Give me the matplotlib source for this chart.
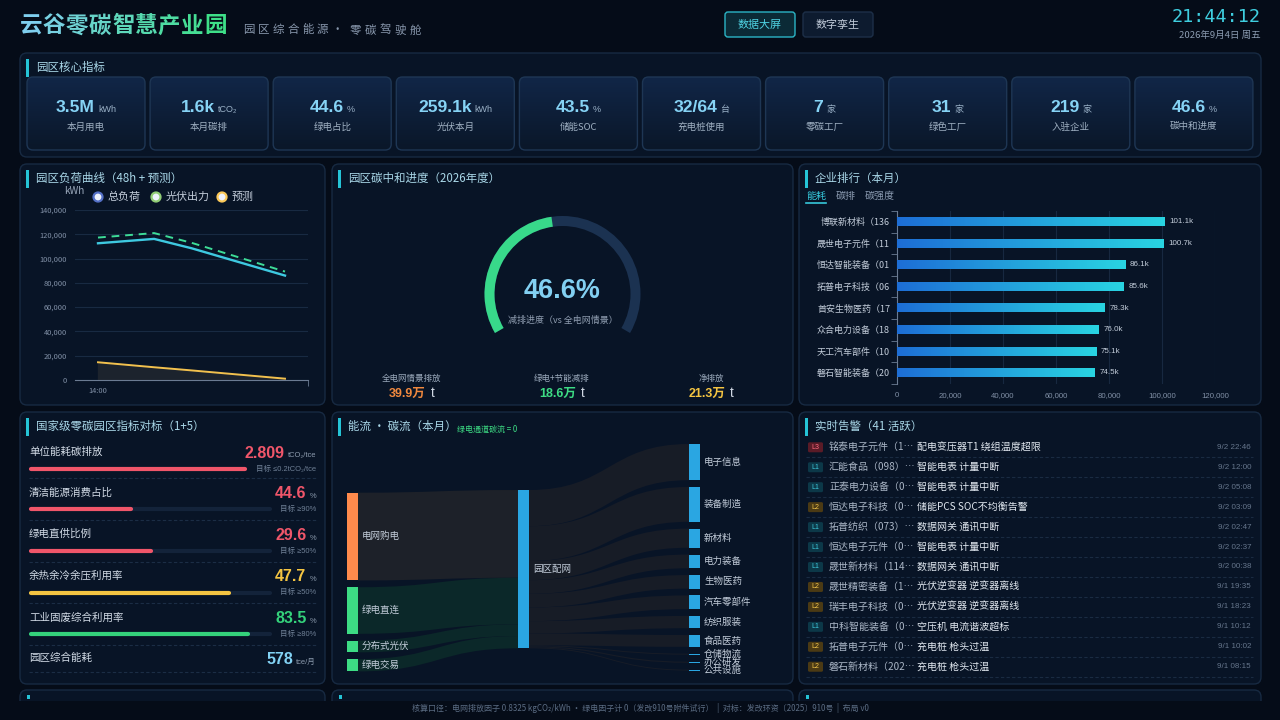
import matplotlib
matplotlib.use('Agg')
import matplotlib.pyplot as plt
import numpy as np
from matplotlib.patches import FancyBboxPatch, Rectangle, Wedge, PathPatch, Circle
from matplotlib.path import Path
from matplotlib.colors import LinearSegmentedColormap
from matplotlib.ticker import FuncFormatter, FixedLocator

plt.rcParams['font.family'] = ['Noto Sans CJK SC', 'DejaVu Sans']
FONT_CJK = ['Noto Sans CJK SC', 'DejaVu Sans']
FONT_NUM = ['Liberation Sans', 'Noto Sans CJK SC', 'DejaVu Sans']

# ---------------- data ----------------
title_text = '云谷零碳智慧产业园'
subtitle_parts = ['园区综合能源', '零碳驾驶舱']
clock_text = '21:44:12'
date_text = '2026年9月4日 周五'
buttons = ['数据大屏', '数字孪生']

kpi_values = ['3.5M', '1.6k', '44.6', '259.1k', '43.5', '32/64', '7', '31', '219', '46.6']
kpi_units = ['kWh', 'tCO₂', '%', 'kWh', '%', '台', '家', '家', '家', '%']
kpi_labels = ['本月用电', '本月碳排', '绿电占比', '光伏本月', '储能SOC', '充电桩使用',
              '零碳工厂', '绿色工厂', '入驻企业', '碳中和进度']

load_hours = [14, 17, 19, 24]
load_tick_labels = ['14:00']
load_total = [112600, 116200, 108500, 86000]
load_forecast = [117300, 121000, 113000, 89300]
pv_output = [14600, 10500, 7900, 1100]
legend_names = ['总负荷', '光伏出力', '预测']

gauge_value = 46.6
gauge_stats_labels = ['全电网情景排放', '绿电+节能减排', '净排放']
gauge_stats_values = ['39.9万', '18.6万', '21.3万']

rank_tabs = ['能耗', '碳排', '碳强度']
rank_names = ['博联新材料（136', '晟世电子元件（11', '恒达智能装备（01', '拓普电子科技（06',
              '首安生物医药（17', '众合电力设备（18', '天工汽车部件（10', '磐石智能装备（20']
rank_values = [101100, 100700, 86100, 85600, 78300, 76000, 75100, 74500]

ind_names = ['单位能耗碳排放', '清洁能源消费占比', '绿电直供比例', '余热余冷余压利用率',
             '工业固废综合利用率', '园区综合能耗']
ind_values = ['2.809', '44.6', '29.6', '47.7', '83.5', '578']
ind_units = ['tCO₂/tce', '%', '%', '%', '%', 'tce/月']
ind_targets = ['目标 ≤0.2tCO₂/tce', '目标 ≥90%', '目标 ≥50%', '目标 ≥50%', '目标 ≥80%', None]
ind_fill = [1.0, 0.43, 0.51, 0.83, 0.91, None]
ind_status = ['bad', 'bad', 'bad', 'warn', 'ok', 'info']

sk_sources = ['电网购电', '绿电直连', '分布式光伏', '绿电交易']
sk_source_vals = [1940, 1030, 259, 271]
sk_hub = '园区配网'
sk_targets = ['电子信息', '装备制造', '新材料', '电力装备', '生物医药', '汽车零部件',
              '纺织服装', '食品医药', '仓储物流', '办公研发', '公共设施']
sk_target_vals = [800, 770, 423, 303, 300, 303, 272, 262, 22, 25, 20]

alarm_levels = ['L3', 'L1', 'L1', 'L2', 'L1', 'L1', 'L1', 'L2', 'L2', 'L1', 'L2', 'L2']
alarm_companies = ['铭泰电子元件（1…', '汇能食品（098）…', '正泰电力设备（0…', '恒达电子科技（0…',
                   '拓普纺织（073）…', '恒达电子元件（0…', '晟世新材料（114…', '晟世精密装备（1…',
                   '瑞丰电子科技（0…', '中科智能装备（0…', '拓普电子元件（0…', '磐石新材料（202…']
alarm_messages = ['配电变压器T1 绕组温度超限', '智能电表 计量中断', '智能电表 计量中断',
                  '储能PCS SOC不均衡告警', '数据网关 通讯中断', '智能电表 计量中断',
                  '数据网关 通讯中断', '光伏逆变器 逆变器离线', '光伏逆变器 逆变器离线',
                  '空压机 电流谐波超标', '充电桩 枪头过温', '充电桩 枪头过温']
alarm_times = ['9/2 22:46', '9/2 12:00', '9/2 05:08', '9/2 03:09', '9/2 02:47', '9/2 02:37',
               '9/2 00:38', '9/1 19:35', '9/1 18:23', '9/1 10:12', '9/1 10:02', '9/1 08:15']

footer_text = ('核算口径：电网排放因子 0.8325 kgCO₂/kWh · 绿电因子计 0（发改910号附件试行）  |  '
               '对标：发改环资〔2025〕910号  |  布局 v0')

# ---------------- style ----------------
BG = '#050c18'
PANEL = '#081426'
BORDER = '#172a42'
CYAN = '#25c4d6'
TITLE_C = '#a9d7e8'
TXT = '#c3cdda'
GREY = '#8190a6'
STATUS_C = {'bad': '#f0566a', 'warn': '#f5c542', 'ok': '#34d27b', 'info': '#82d2f4'}

W, H = 1280, 720
fig = plt.figure(figsize=(12.8, 7.2), dpi=100)
fig.patch.set_facecolor(BG)
ax = fig.add_axes([0, 0, 1, 1])
ax.set_xlim(0, W)
ax.set_ylim(H, 0)
ax.axis('off')
renderer = fig.canvas.get_renderer()


def T(x, y, s, size, color, ha='left', va='center', weight='normal', family=None, **kw):
    return ax.text(x, y, s, fontsize=size * 0.72, color=color, ha=ha, va=va,
                   fontweight=weight, family=family or FONT_CJK, **kw)


def rich(x, y, parts, ha='center'):
    objs, widths = [], []
    for s, size, color, weight, fam, gap in parts:
        t = ax.text(0, y, s, fontsize=size * 0.72, color=color, fontweight=weight,
                    family=fam, ha='left', va='baseline')
        objs.append(t)
        widths.append(t.get_window_extent(renderer=renderer).width + gap)
    total = sum(widths)
    start = x - total / 2 if ha == 'center' else (x - total if ha == 'right' else x)
    cx = start
    for t, w, p in zip(objs, widths, parts):
        cx += p[5]
        t.set_x(cx)
        cx += w - p[5]


def rbox(x0, y0, x1, y1, fc, ec, r=6, lw=1.0, z=1):
    p = FancyBboxPatch((x0, y0), x1 - x0, y1 - y0, boxstyle=f'round,pad=0,rounding_size={r}',
                       fc=fc, ec=ec, lw=lw, zorder=z)
    ax.add_patch(p)
    return p


def panel(x0, y0, x1, y1, title=None):
    rbox(x0, y0, x1, y1, PANEL, BORDER, r=7)
    ax.add_patch(Rectangle((x0 + 6, y0 + 6), 3, 18, fc=CYAN, ec='none', zorder=2))
    if title:
        T(x0 + 16, y0 + 14.5, title, 11.5, TITLE_C, zorder=3)


# ---------------- header ----------------
c0 = np.array([0x7f, 0xcf, 0xee]) / 255
c1 = np.array([0x3e, 0xe0, 0x88]) / 255
for i, ch in enumerate(title_text):
    f = i / (len(title_text) - 1)
    col = c0 * (1 - f) + c1 * f
    T(20 + i * 23.0, 26, ch, 22.5, col, weight='bold')
for start, part in zip([243, 350], subtitle_parts):
    for j, ch in enumerate(part):
        T(start + j * 14.8, 30, ch, 11.5, '#8796ab')
T(337, 30, '·', 11.5, '#8796ab', ha='center')

for (bx0, bx1), lab, active in zip([(725, 795), (803, 873)], buttons, [True, False]):
    rbox(bx0, 12, bx1, 37, '#0b2a36' if active else '#0d1b2f',
         '#2bb5c6' if active else '#1d2f48', r=3, lw=1.0)
    T((bx0 + bx1) / 2, 24.5, lab, 11, '#4fd3e4' if active else '#c0cad8', ha='center')

T(1261, 17, clock_text, 18.5, '#3fcfe0', ha='right', family=['DejaVu Sans Mono'])
T(1261, 35, date_text, 9.5, '#8b9bb0', ha='right')

# ---------------- KPI panel ----------------
panel(20, 53, 1261, 157, '园区核心指标')
card_cmap = LinearSegmentedColormap.from_list('card', ['#112647', '#0a1729'])
for i in range(len(kpi_values)):
    x0 = 27 + i * 123.1
    x1 = x0 + 118
    p = rbox(x0, 77, x1, 150, 'none', '#1e3654', r=6, lw=1.0, z=3)
    im = ax.imshow(np.linspace(0, 1, 64).reshape(-1, 1), extent=[x0, x1, 150, 77],
                   cmap=card_cmap, aspect='auto', origin='upper', zorder=2)
    im.set_clip_path(p)
    cx = (x0 + x1) / 2
    rich(cx, 112, [(kpi_values[i], 17.5, '#86d3f5', 'bold', FONT_NUM, 0),
                   (kpi_units[i], 9, '#9bb2c8', 'normal', FONT_NUM, 3)], ha='center')
    T(cx, 127, kpi_labels[i], 9.5, '#9fb0c2', ha='center', zorder=4)

# ---------------- load curve panel ----------------
panel(20, 164, 325, 405, '园区负荷曲线（48h + 预测）')
T(74, 191, 'kWh', 10, '#9aa8bb', ha='center')
leg_edges = ['#5470c6', '#91cc75', '#fac858']
leg_x = [98, 156, 222]
for lx, name, ec in zip(leg_x, legend_names, leg_edges):
    ax.add_patch(Circle((lx, 197), 4.5, fc='#eef2fb', ec=ec, lw=1.6, zorder=4))
    T(lx + 10, 197, name, 11, TXT)

x_lo, x_hi = 12.77, 25.23
lax = fig.add_axes([75 / W, 1 - 380 / H, (308 - 75) / W, (380 - 210) / H])
lax.set_facecolor('none')
lax.set_xlim(x_lo, x_hi)
lax.set_ylim(0, 140000)
lax.set_yticks(np.arange(0, 140001, 20000))
lax.yaxis.set_major_formatter(FuncFormatter(lambda v, p: f'{int(v):,}'))
lax.grid(axis='y', color='#182a42', lw=0.8)
lax.set_axisbelow(True)
for s in ['left', 'right', 'top']:
    lax.spines[s].set_visible(False)
lax.spines['bottom'].set_color('#6b7b92')
lax.tick_params(axis='y', length=0, labelsize=7.5 * 0.72, labelcolor=GREY, pad=6)
lax.xaxis.set_major_locator(FixedLocator([load_hours[0]]))
lax.set_xticklabels(load_tick_labels)
lax.tick_params(axis='x', length=0, labelsize=7.5 * 0.72, labelcolor=GREY, pad=5)
lax.xaxis.set_minor_locator(FixedLocator([x_hi - 0.01]))
lax.tick_params(axis='x', which='minor', length=4, color='#6b7b92')
lax.fill_between(load_hours, pv_output, 0, color='#1c232d', zorder=2)
lax.plot(load_hours, pv_output, color='#f2c14e', lw=1.4, zorder=3)
lax.plot(load_hours, load_forecast, color='#3ddc97', lw=1.4, ls=(0, (4, 3)), zorder=3)
lax.plot(load_hours, load_total, color='#3ec9e0', lw=1.7, zorder=4)

# ---------------- gauge panel ----------------
panel(332, 164, 793, 405, '园区碳中和进度（2026年度）')
gcx, gcy, gr, gw = 562.5, 294, 78, 10
start_a, end_a = 210, -30
ax.add_patch(Wedge((gcx, gcy), gr, -start_a, -end_a, width=gw, fc='#1b3251', ec='none', zorder=3))
va = start_a - (start_a - end_a) * gauge_value / 100
ax.add_patch(Wedge((gcx, gcy), gr, -start_a, -va, width=gw, fc='#38d98a', ec='none', zorder=4))
T(gcx, 291, f'{gauge_value:.1f}%', 27, '#82d0f2', ha='center', weight='bold', family=FONT_NUM)
T(gcx, 320, '减排进度（vs 全电网情景）', 9, '#8f9db0', ha='center')
stat_x = [412, 562, 711]
stat_c = ['#f0883e', '#3ddc84', '#f5c542']
for sxp, lab, val, col in zip(stat_x, gauge_stats_labels, gauge_stats_values, stat_c):
    T(sxp, 378, lab, 8.5, '#9aa9bb', ha='center')
    rich(sxp, 397, [(val, 12.5, col, 'bold', FONT_NUM, 0),
                    ('t', 13.5, '#d0d8e4', 'normal', FONT_NUM, 5)], ha='center')

# ---------------- ranking panel ----------------
panel(799, 164, 1261, 405, '企业排行（本月）')
tx = [806, 836, 865]
for i, (x, lab) in enumerate(zip(tx, rank_tabs)):
    T(x, 196, lab, 10, '#36c7da' if i == 0 else '#8a9ab0')
ax.plot([806, 826], [202.5, 202.5], color='#36c7da', lw=1.2)

bax = fig.add_axes([897 / W, 1 - 383.7 / H, (1215 - 897) / W, (383.7 - 211) / H])
bax.set_facecolor('none')
n = len(rank_values)
bar_cmap = LinearSegmentedColormap.from_list('bar', ['#1d6ed6', '#29d4e2'])
grad = np.linspace(0, 1, 128).reshape(1, -1)
bh = 0.2
for i, v in enumerate(rank_values):
    bax.imshow(grad, extent=[0, v, i + bh, i - bh], cmap=bar_cmap, aspect='auto', zorder=3)
    bax.text(v + 1800, i, f'{v / 1000:.1f}k', fontsize=8 * 0.72, color=TXT, va='center',
             family=FONT_NUM, zorder=4)
bax.set_xlim(0, 120000)
bax.set_ylim(n - 0.5, -0.5)
bax.set_xticks(np.arange(0, 120001, 20000))
bax.xaxis.set_major_formatter(FuncFormatter(lambda v, p: f'{int(v):,}'))
bax.set_yticks(range(n))
bax.set_yticklabels(rank_names)
bax.yaxis.set_minor_locator(FixedLocator(np.arange(-0.5, n, 1)))
bax.tick_params(axis='y', which='major', length=0, labelsize=9 * 0.72, labelcolor=TXT, pad=5)
bax.tick_params(axis='y', which='minor', length=4, color='#6b7b92')
bax.tick_params(axis='x', length=0, labelsize=7.8 * 0.72, labelcolor=GREY, pad=6)
for lbl in bax.get_xticklabels():
    lbl.set_family(FONT_NUM)
bax.grid(axis='x', color='#172840', lw=0.8)
bax.set_axisbelow(True)
for s in ['right', 'top', 'bottom']:
    bax.spines[s].set_visible(False)
bax.spines['left'].set_color('#6b7b92')

# ---------------- indicator panel ----------------
panel(20, 412, 325, 684, '国家级零碳园区指标对标（1+5）')
row_y = [452, 492.3, 534, 575.7, 617.3, 658.3]
sep_y = [478.3, 520, 561.7, 603.3, 645, 671.7]
for i, name in enumerate(ind_names):
    y = row_y[i]
    col = STATUS_C[ind_status[i]]
    T(29, y, name, 10.5, '#d2dbe6')
    rich(316, y + 5.5, [(ind_values[i], 16, col, 'bold', FONT_NUM, 0),
                        (ind_units[i], 7.5, '#8e9db0', 'normal', FONT_NUM, 3)], ha='right')
    if ind_fill[i] is not None:
        by = y + 17
        tr_end = 247 if i == 0 else 272
        ax.plot([31, tr_end - 2], [by, by], color='#13233a', lw=3, solid_capstyle='round', zorder=3)
        fe = 29 + (tr_end - 29) * ind_fill[i]
        ax.plot([31, fe - 2], [by, by], color=col, lw=3, solid_capstyle='round', zorder=4)
        T(316, by, ind_targets[i], 7.5, '#6f8096', ha='right', family=FONT_NUM)
    ax.plot([29, 316], [sep_y[i], sep_y[i]], color='#1b2d45', lw=0.8, ls=(0, (3, 2)))

# ---------------- sankey panel ----------------
panel(332, 412, 793, 684, '能流 · 碳流（本月）')
T(457, 429, '绿电通道碳流 = 0', 8, '#3ddc84')
k = 158.3 / sum(sk_source_vals)
gap = 6.8
lx0, lx1 = 347, 358
mx0, mx1 = 518, 529
rx0, rx1 = 689, 700


def band(x0, a0, b0, x1, a1, b1, color):
    xm = (x0 + x1) / 2
    verts = [(x0, a0), (xm, a0), (xm, a1), (x1, a1), (x1, b1), (xm, b1), (xm, b0), (x0, b0), (x0, a0)]
    codes = [Path.MOVETO, Path.CURVE4, Path.CURVE4, Path.CURVE4, Path.LINETO,
             Path.CURVE4, Path.CURVE4, Path.CURVE4, Path.CLOSEPOLY]
    ax.add_patch(PathPatch(Path(verts, codes), fc=color, ec='none', zorder=2))


src_cols = ['#ff8a4c', '#3ddc84', '#3ddc84', '#3ddc84']
link_cols = ['#1d2129', '#0b2829', '#0b2829', '#0b2829']
y = 492.7
mid_top = 490
my = mid_top
for name, v, c, lc in zip(sk_sources, sk_source_vals, src_cols, link_cols):
    h = v * k
    band(lx1, y, y + h, mx0, my, my + h, lc)
    ax.add_patch(Rectangle((lx0, y), lx1 - lx0, h, fc=c, ec='none', zorder=3))
    T(lx1 + 4, y + h / 2, name, 9.5, TXT, zorder=4)
    y += h + gap
    my += h
mid_h = my - mid_top
y = 444
my = mid_top
for name, v in zip(sk_targets, sk_target_vals):
    h = v * k
    band(mx1, my, my + h, rx0, y, y + h, '#171c26')
    ax.add_patch(Rectangle((rx0, y), rx1 - rx0, max(h, 1.2), fc='#2aa6e2', ec='none', zorder=3))
    T(rx1 + 4, y + max(h, 1.2) / 2, name, 9.5, TXT, zorder=4)
    y += max(h, 1.2) + gap
    my += h
ax.add_patch(Rectangle((mx0, mid_top), mx1 - mx0, mid_h, fc='#2aa6e2', ec='none', zorder=3))
T(mx1 + 4, mid_top + mid_h / 2, sk_hub, 9.5, TXT, zorder=4)

# ---------------- alarm panel ----------------
panel(799, 412, 1261, 684, f'实时告警（{41} 活跃）')
badge = {'L3': ('#5a1b27', '#ff6b81'), 'L1': ('#0c3848', '#3fc8dc'), 'L2': ('#4b3a14', '#f0c24a')}
for i in range(len(alarm_levels)):
    y = 447.3 + i * 19.95
    bfc, btc = badge[alarm_levels[i]]
    rbox(808, y - 5, 823, y + 5, bfc, 'none', r=1.5, lw=0, z=3)
    T(815.5, y, alarm_levels[i], 7, btc, ha='center', family=FONT_NUM, zorder=4)
    T(829, y, alarm_companies[i], 10, '#aab6c6')
    T(917, y, alarm_messages[i], 10, '#e0e7ef')
    T(1251, y, alarm_times[i], 8, '#66768c', ha='right', family=FONT_NUM)
    ax.plot([806, 1253], [y + 10, y + 10], color='#1a2b42', lw=0.8, ls=(0, (3, 2)))

# ---------------- bottom partial row + footer ----------------
for x0, x1 in [(20, 325), (332, 793), (799, 1261)]:
    rbox(x0, 690, x1, 760, PANEL, BORDER, r=7)
    ax.add_patch(Rectangle((x0 + 7, 695), 2.5, 4, fc=CYAN, ec='none', zorder=2))
ax.add_patch(Rectangle((0, 701), W, 20, fc=BG, ec='none', zorder=5))
T(640, 708, footer_text, 8, '#5b6c83', ha='center', zorder=6)

ax.set_xlim(0, W)
ax.set_ylim(H, 0)
ax.set_aspect('auto')
fig.savefig('out.png', dpi=100, facecolor=BG)
